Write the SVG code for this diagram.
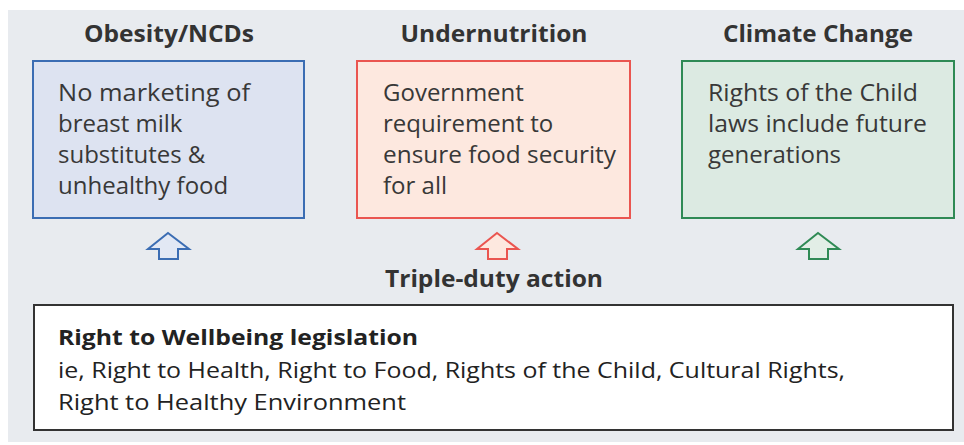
<svg xmlns="http://www.w3.org/2000/svg" width="964" height="445" viewBox="0 0 964 445">
<style>
.hd{font-family:"Open Sans","Liberation Sans",sans-serif;font-weight:bold;font-size:23px;fill:#333;text-anchor:middle}
.bt{font-family:"Open Sans","Liberation Sans",sans-serif;font-size:24px;fill:#383838}
.bb{font-family:"Open Sans","Liberation Sans",sans-serif;font-size:22px;fill:#222}
.arr{stroke-width:2;stroke-linejoin:miter}
</style>
<rect x="0" y="0" width="964" height="445" fill="#ffffff"/>
<rect x="8" y="10" width="956" height="432" fill="#e8ebef"/>
<g id="obesity">
<text class="hd" x="169" y="42" textLength="170" lengthAdjust="spacingAndGlyphs">Obesity/NCDs</text>
<rect x="33" y="61" width="271" height="157" fill="#dde3f1" stroke="#3b6db3" stroke-width="2"/>
<text class="bt" x="58" y="101" textLength="192" lengthAdjust="spacingAndGlyphs">No marketing of</text>
<text class="bt" x="58" y="132">breast milk</text>
<text class="bt" x="58" y="163">substitutes &amp;</text>
<text class="bt" x="58" y="194">unhealthy food</text>
</g>
<g id="undernutrition">
<text class="hd" x="494" y="42" textLength="187" lengthAdjust="spacingAndGlyphs">Undernutrition</text>
<rect x="357" y="61" width="273" height="157" fill="#fde8df" stroke="#ea5550" stroke-width="2"/>
<text class="bt" x="383" y="101">Government</text>
<text class="bt" x="383" y="132">requirement to</text>
<text class="bt" x="383" y="163" textLength="233" lengthAdjust="spacingAndGlyphs">ensure food security</text>
<text class="bt" x="383" y="194">for all</text>
</g>
<g id="climate">
<text class="hd" x="818" y="42" textLength="190" lengthAdjust="spacingAndGlyphs">Climate Change</text>
<rect x="682" y="61" width="272" height="157" fill="#dceae2" stroke="#2f8a55" stroke-width="2"/>
<text class="bt" x="708" y="101" textLength="210" lengthAdjust="spacingAndGlyphs">Rights of the Child</text>
<text class="bt" x="708" y="132" textLength="219" lengthAdjust="spacingAndGlyphs">laws include future</text>
<text class="bt" x="708" y="163">generations</text>
</g>
<g id="connectors">
<polygon class="arr" points="168,233 189,249 178,249 178,259 159,259 159,249 148,249" fill="#e2e8f4" stroke="#3b6db3"/>
<polygon class="arr" points="497,233 518,249 507,249 507,259 488,259 488,249 477,249" fill="#fde8df" stroke="#ea5550"/>
<polygon class="arr" points="818,233 839,249 828,249 828,259 809,259 809,249 798,249" fill="#e2eee6" stroke="#2f8a55"/>
</g>
<g id="triple">
<text class="hd" x="494" y="287" textLength="218" lengthAdjust="spacingAndGlyphs">Triple-duty action</text>
</g>
<g id="wellbeing">
<rect x="34" y="305" width="919" height="125" fill="#ffffff" stroke="#333" stroke-width="2"/>
<text class="bb" x="58" y="345" font-weight="bold" textLength="360" lengthAdjust="spacingAndGlyphs">Right to Wellbeing legislation</text>
<text class="bb" x="58" y="378" textLength="787" lengthAdjust="spacingAndGlyphs">ie, Right to Health, Right to Food, Rights of the Child, Cultural Rights,</text>
<text class="bb" x="58" y="410" textLength="348" lengthAdjust="spacingAndGlyphs">Right to Healthy Environment</text>
</g>
</svg>
